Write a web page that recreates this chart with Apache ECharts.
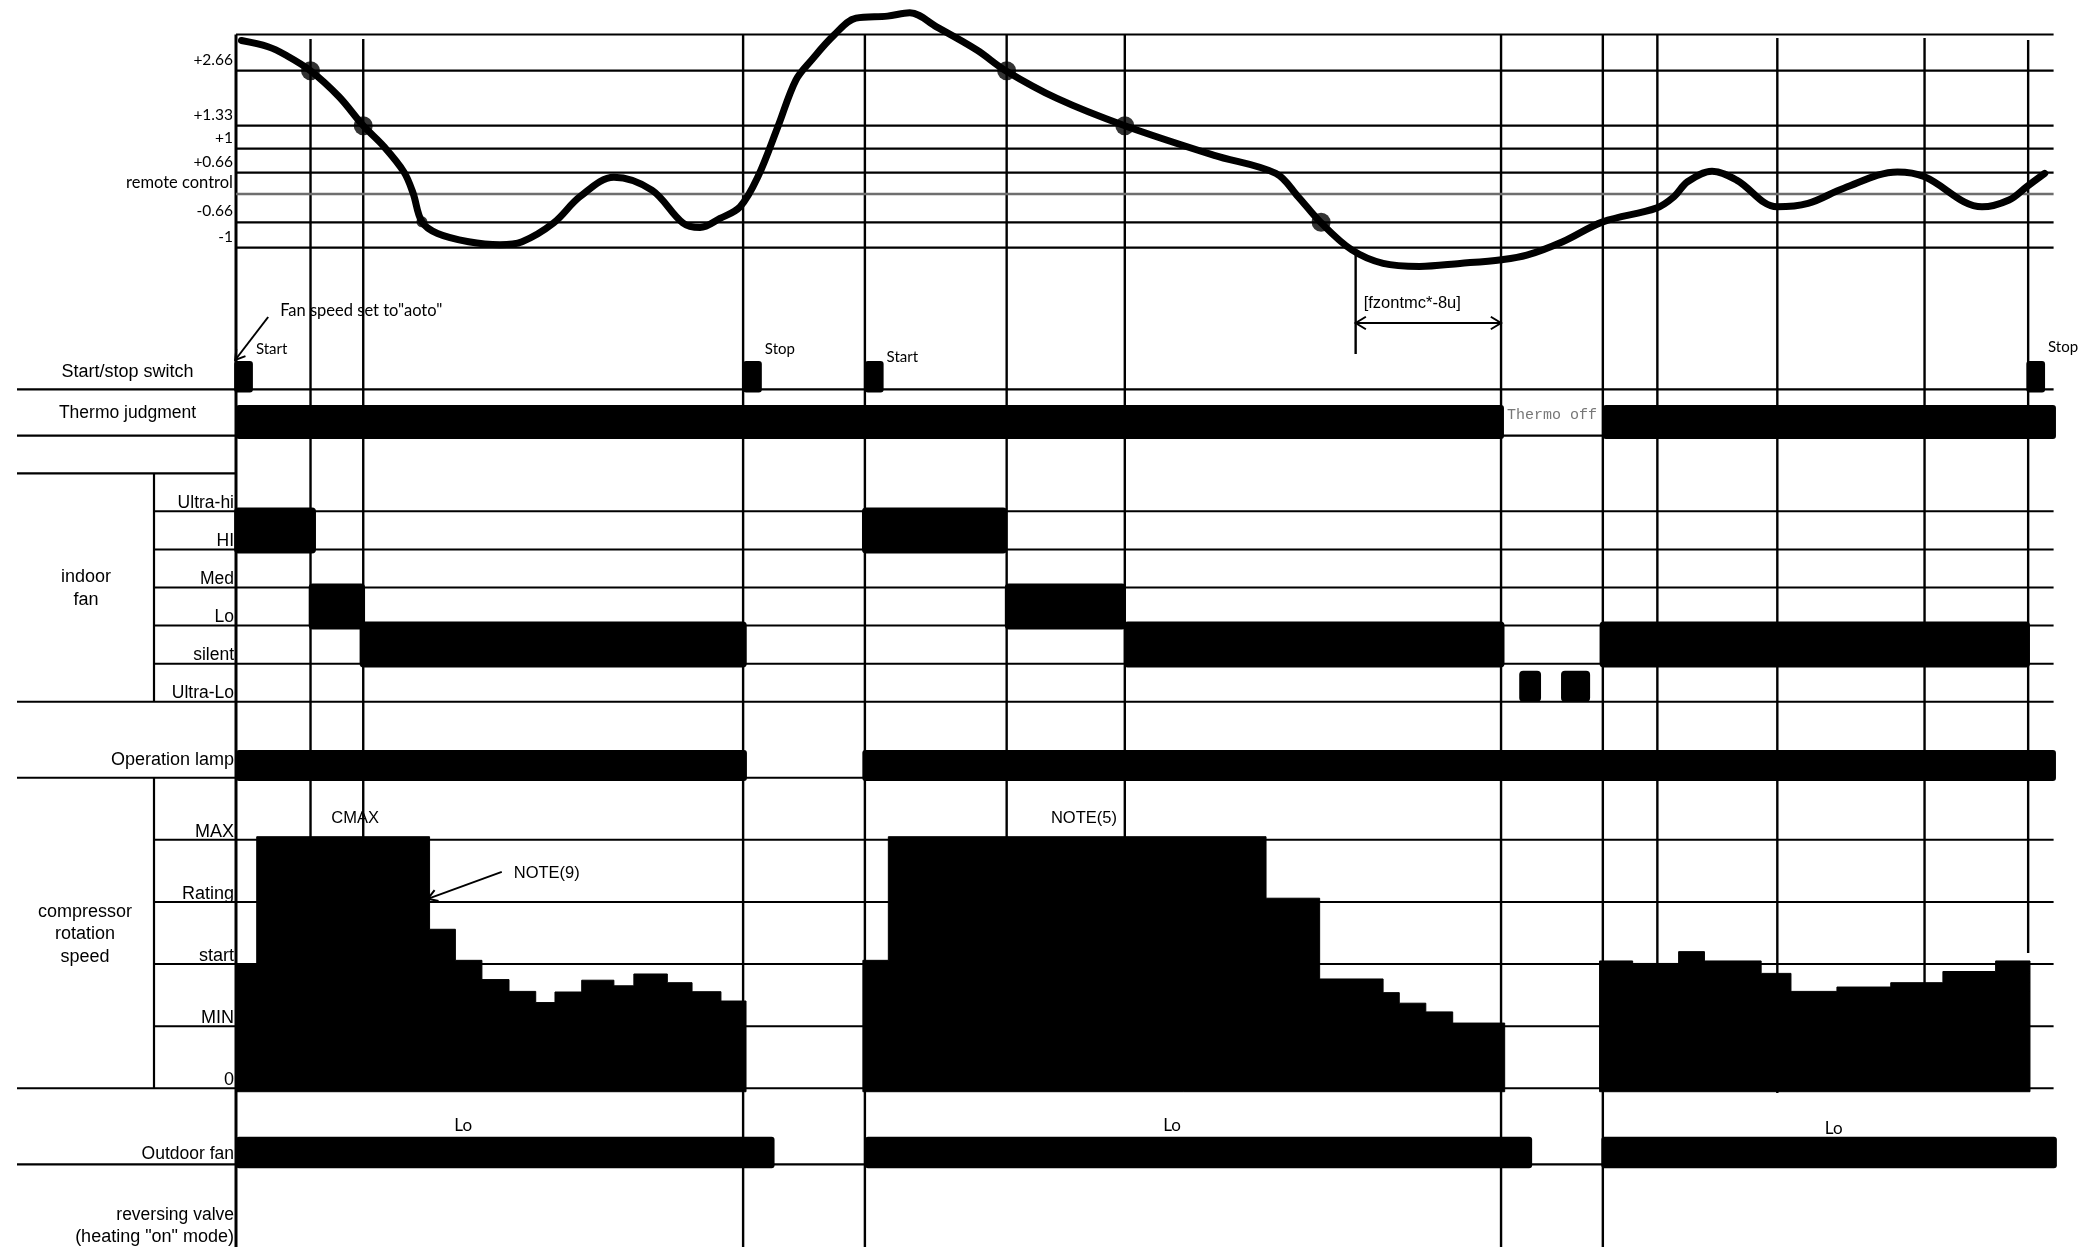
<!DOCTYPE html>
<html><head><meta charset="utf-8">
<script src="https://cdn.jsdelivr.net/npm/echarts@6/dist/echarts.min.js"></script>
<style>html,body{margin:0;padding:0;background:#fff}#c{width:2084px;height:1247px}</style>
</head><body><div id="c"></div>
<script>
// ======================= DATA (time in arbitrary units 0..1000) =======================
// event / transition times (vertical lines)
const eventTimes = [0, 41, 70, 279, 346, 424, 489, 616, 696, 752, 782, 848, 929, 986];

// room temperature deviation from remote-control setting
const tempLevels = [2.66, 1.33, 1, 0.66, 0, -0.66, -1];
const tempLevelLabels = ['+2.66', '+1.33', '+1', '+0.66', 'remote control', '-0.66', '-1'];
const tempCurveT = [3, 17.6, 27.3, 41, 56.7, 70, 81.4, 92.4, 97.4, 102.3, 110.9, 128, 145.2, 157.4, 174.7,
  189.3, 207.9, 228.8, 245.9, 255.3, 266.3, 277.3, 287.2, 298.2, 308.1, 316.7, 329, 341.1, 358.4, 370.7,
  385.4, 407.6, 423.5, 451.7, 489, 537.7, 572.1, 584.3, 596.7, 613.9, 631.1, 651.2, 673.4, 696.2, 710.2,
  729.9, 752, 781.4, 791.2, 798.6, 812.1, 825.6, 847.8, 864.9, 884.6, 914.1, 928.7, 960.6, 975.5, 985.3, 995.1];
const tempCurveDev = [3.39, 3.24, 3.04, 2.66, 2.03, 1.33, 1.03, 0.67, 0.03, -0.65, -0.81, -0.92, -0.96, -0.92, -0.67,
  -0.06, 0.52, 0.12, -0.67, -0.73, -0.57, -0.30, 0.54, 1.32, 2.44, 2.92, 3.52, 3.93, 3.98, 4.06,
  3.72, 3.16, 2.66, 1.99, 1.33, 0.91, 0.64, -0.06, -0.66, -1.03, -1.21, -1.25, -1.21, -1.16, -1.10,
  -0.92, -0.65, -0.33, -0.06, 0.38, 0.68, 0.43, -0.30, -0.22, 0.18, 0.67, 0.54, -0.30, -0.14, 0.23, 0.64];
const tempMarkT = [41, 70, 424, 489, 597];
const tempMarkDev = [2.66, 1.33, 2.66, 1.33, -0.66];
const tempSmallMarkT = [102.3];
const tempSmallMarkDev = [-0.65];

// start / stop switch presses
const switchTimes = [-1, 279, 346, 985];
const switchLabels = ['Start', 'Stop', 'Start', 'Stop'];

// thermo judgment (on intervals)
const thermoOn = [[0, 697.6], [752, 1001.3]];
const thermoOffLabel = 'Thermo off';

// indoor fan
const fanLevels = ['Ultra-Lo', 'silent', 'Lo', 'Med', 'HI', 'Ultra-hi'];   // bottom -> top
const indoorFanSteps = [[-1, 44, 'HI'], [40, 71, 'Lo'], [68, 281, 'silent'],
  [344.4, 424.2, 'HI'], [423, 489.6, 'Lo'], [488.5, 697.9, 'silent'], [750.2, 987, 'silent']];
const ultraLoPulses = [[706, 718], [729, 745]];

// operation lamp
const lampOn = [[0, 281.1], [344.6, 1001.3]];

// compressor rotation speed: [start, end, level]   (0=0, 1=MIN, 2=start, 3=Rating, 4=MAX)
const compLevels = ['0', 'MIN', 'start', 'Rating', 'MAX'];
const compSteps = [
  [0, 11.4, 2.0], [11.4, 106.5, 4.05], [106.5, 120.7, 2.56], [120.7, 135.3, 2.06], [135.3, 150.2, 1.75],
  [150.2, 164.9, 1.56], [164.9, 175.5, 1.38], [175.5, 190.2, 1.55], [190.2, 207.9, 1.74], [207.9, 218.9, 1.65],
  [218.9, 237.3, 1.84], [237.3, 250.9, 1.70], [250.9, 266.8, 1.555], [266.8, 280.6, 1.405],
  [344.9, 358.9, 2.06], [358.9, 566.7, 4.05], [566.7, 596.2, 3.06], [596.2, 631.1, 1.76], [631.1, 640, 1.54],
  [640, 654.6, 1.37], [654.6, 669.4, 1.23], [669.4, 698, 1.05],
  [750.2, 768.4, 2.05], [768.4, 793.7, 2.01], [793.7, 807.9, 2.20], [807.9, 839.1, 2.05], [839.1, 855.5, 1.85],
  [855.5, 880.8, 1.56], [880.8, 910.4, 1.63], [910.4, 939.1, 1.70], [939.1, 968.1, 1.88], [968.1, 987, 2.05]];
const compNoteT = [65.5, 466.5];
const compNoteText = ['CMAX', 'NOTE(5)'];
const note9Target = [105.5, 3.05];   // [time, level]
const note9Text = 'NOTE(9)';

// outdoor fan
const outdoorOn = [[0, 296.3], [346.1, 713.1], [751.2, 1001.8]];
const outdoorLabelT = [125, 515, 879];
const outdoorLabelText = ['Lo', 'Lo', 'Lo'];

// annotation texts
const fanNoteText = 'Fan speed set to"aoto"';
const dimText = '[fzontmc*-8u]';

// ======================= LAYOUT =======================
const W = 2084, H = 1247;
const PL = 236, PR = 2053.6;          // plot left / right edge
const LAB_L = 17, SUB_L = 154;        // label-area left edges
const LS = 'Liberation Sans', CAL = 'Lato', MONO = 'Liberation Mono';
const FRAME_TOP = 34.5;
const tempLevelPos = [70.7, 125.7, 148.7, 172.7, 194, 222.3, 247.7]; // px rows for tempLevels
const EVENT_SPAN = [[34.5, 1247], [39, 1088], [39, 1088], [34.5, 1247], [34.5, 1247], [34.5, 1088], [34.5, 1088],
  [255, 354], [34.5, 1247], [34.5, 1247], [34.5, 1088], [38, 1093], [38, 1088], [40, 953]];
const DIM_Y = 323;
const SW_PULSE = 10.3;
const SW_LABEL_DY = [-12, -12, -4, -14];
const OUT_LABEL_DY = [-11, -11, -8];
const FAN_HALF = 0.604;
const COMP_BASE = -0.055;

function devToPos(d) {
  const L = tempLevels, P = tempLevelPos;
  let i;
  if (d >= L[0]) i = 0;
  else if (d <= L[L.length - 1]) i = L.length - 2;
  else { i = 0; while (!(d <= L[i] && d >= L[i + 1])) i++; }
  const f = (d - L[i]) / (L[i + 1] - L[i]);
  return P[i] + f * (P[i + 1] - P[i]);
}

function txt(text, x, y, size, align, family, fill) {
  return { type: 'text', x: x, y: y, silent: true,
    style: { text: text, fill: fill || '#000', fontSize: size, fontFamily: family || LS,
      textAlign: align || 'left', align: align || 'left', textVerticalAlign: 'middle', verticalAlign: 'middle' } };
}
function ln(x1, y1, x2, y2, w, c) {
  return { type: 'line', silent: true, shape: { x1: x1, y1: y1, x2: x2, y2: y2 }, style: { stroke: c || '#000', lineWidth: w || 2 } };
}
function arrowHead(x1, y1, x2, y2, h) {
  const a = Math.atan2(y2 - y1, x2 - x1), s = 0.55; h = h || 11;
  return { type: 'polyline', shape: { points: [[x2 - h * Math.cos(a - s), y2 - h * Math.sin(a - s)], [x2, y2],
    [x2 - h * Math.cos(a + s), y2 - h * Math.sin(a + s)]] }, style: { stroke: '#000', lineWidth: 2, fill: 'none' } };
}

const gridDefs = [
  { top: 0, height: H },          // 0 overlay
  { top: 0, height: 290 },        // 1 temperature
  { top: 361, height: 28.4 },     // 2 start/stop
  { top: 405, height: 34 },       // 3 thermo
  { top: 473.3, height: 228.4 },  // 4 indoor fan (6 rows)
  { top: 750, height: 31 },       // 5 operation lamp
  { top: 777.7, height: 310.6 },  // 6 compressor (5 units)
  { top: 1136.7, height: 31.6 }   // 7 outdoor fan
];
const grid = gridDefs.map(g => ({ left: PL, width: PR - PL, top: g.top, height: g.height, outerBoundsMode: 'none', containLabel: false }));
const xAxis = gridDefs.map((g, i) => ({ gridIndex: i, type: 'value', min: 0, max: 1000, show: false }));
const hiddenY = (i, min, max, inv) => ({ gridIndex: i, type: 'value', min: min, max: max, inverse: !!inv, show: false });
const yAxis = [
  hiddenY(0, 0, H, true),
  { gridIndex: 1, type: 'value', min: 0, max: 290, inverse: true,
    axisLine: { show: false }, axisTick: { show: false }, splitLine: { show: false },
    axisLabel: { customValues: tempLevels.map(devToPos), margin: 3, fontSize: 15.5, fontFamily: CAL, color: '#000',
      verticalAlign: 'bottom', lineHeight: 22,
      rich: { rc: { fontSize: 16.5, fontFamily: CAL, lineHeight: 22 } },
      formatter: v => { const i = tempLevels.findIndex(d => Math.abs(devToPos(d) - v) < 0.01);
        if (i < 0) return ''; return tempLevels[i] === 0 ? '{rc|' + tempLevelLabels[i] + '}' : tempLevelLabels[i]; } } },
  hiddenY(2, 0, 1),
  hiddenY(3, 0, 1),
  { gridIndex: 4, type: 'value', min: 0, max: 6, interval: 1,
    axisLine: { show: false }, axisTick: { show: false }, splitLine: { show: false },
    axisLabel: { margin: 2, fontSize: 17.5, fontFamily: LS, color: '#000', verticalAlign: 'bottom', lineHeight: 17,
      showMinLabel: true, showMaxLabel: true, formatter: v => fanLevels[v] || '' } },
  hiddenY(5, 0, 1),
  { gridIndex: 6, type: 'value', min: 0, max: 5, interval: 1,
    axisLine: { show: false }, axisTick: { show: false }, splitLine: { show: false },
    axisLabel: { margin: 2, fontSize: 18, fontFamily: LS, color: '#000', verticalAlign: 'bottom', lineHeight: 16,
      showMinLabel: true, showMaxLabel: true, formatter: v => compLevels[v] || '' } },
  hiddenY(7, 0, 1)
];

function levelLines(gi, values, lefts, colors, widths) {
  return { type: 'custom', xAxisIndex: gi, yAxisIndex: gi, clip: false, silent: true, z: 1,
    data: values.map(v => [0, v]),
    renderItem: (p, api) => {
      const i = p.dataIndex, y = api.coord([0, api.value(1)])[1];
      return ln(lefts[i], y, p.coordSys.x + p.coordSys.width, y, widths ? widths[i] : 2, colors ? colors[i] : '#000');
    } };
}
function rangeBars(gi, items, r, z) {
  return { type: 'custom', xAxisIndex: gi, yAxisIndex: gi, clip: false, silent: true, z: z || 3,
    data: items,
    renderItem: (p, api) => {
      const a = api.coord([api.value(0), api.value(3)]), b = api.coord([api.value(1), api.value(2)]);
      return { type: 'rect', shape: { x: a[0], y: a[1], width: b[0] - a[0], height: b[1] - a[1], r: r }, style: { fill: '#000' } };
    } };
}

// contiguous compressor runs -> one step silhouette each
const compRuns = [];
compSteps.forEach((s, i) => {
  if (i === 0 || Math.abs(s[0] - compSteps[i - 1][1]) > 0.01) compRuns.push([i]);
  else compRuns[compRuns.length - 1].push(i);
});

const series = [
  // vertical event lines
  { type: 'custom', xAxisIndex: 0, yAxisIndex: 0, clip: false, silent: true, z: 1,
    data: eventTimes.map((t, i) => [t, i]),
    renderItem: (p, api) => {
      const t = api.value(0), i = p.dataIndex, s = EVENT_SPAN[i];
      const a = api.coord([t, s[0]]), b = api.coord([t, s[1]]);
      return ln(a[0], a[1], b[0], b[1], i === 0 ? 3 : 2.4);
    } },
  // dimension arrow between eventTimes[7] and [8]
  { type: 'custom', xAxisIndex: 0, yAxisIndex: 0, clip: false, silent: true, z: 2,
    data: [[eventTimes[7], eventTimes[8]]],
    renderItem: (p, api) => {
      const a = api.coord([api.value(0), DIM_Y]), b = api.coord([api.value(1), DIM_Y]);
      return { type: 'group', children: [ln(a[0], a[1], b[0], b[1], 2.2), arrowHead(b[0], b[1], a[0], a[1], 12),
        arrowHead(a[0], a[1], b[0], b[1], 12), txt(dimText, a[0] + 8, a[1] - 20, 16.5, 'left', LS)] };
    } },
  // temperature level lines
  levelLines(1, tempLevels.map(devToPos), tempLevels.map(() => PL),
    tempLevels.map(d => d === 0 ? '#6e6e6e' : '#000'), tempLevels.map(d => d === 0 ? 2.6 : 2.2)),
  // indoor fan row lines
  levelLines(4, [0, 1, 2, 3, 4, 5], [LAB_L, SUB_L, SUB_L, SUB_L, SUB_L, SUB_L]),
  // compressor level lines
  levelLines(6, [0, 1, 2, 3, 4, 5], [LAB_L, SUB_L, SUB_L, SUB_L, SUB_L, LAB_L]),
  // start / stop switch
  { type: 'custom', xAxisIndex: 2, yAxisIndex: 2, clip: false, silent: true, z: 3,
    data: switchTimes.map((t, i) => [t, i]),
    renderItem: (p, api) => {
      const i = p.dataIndex, t = api.value(0);
      const a = api.coord([t, 1]), b = api.coord([t + SW_PULSE, 0]);
      const ch = [{ type: 'rect', shape: { x: a[0], y: a[1], width: b[0] - a[0], height: b[1] - a[1] + 3, r: 3 }, style: { fill: '#000' } },
        txt(switchLabels[i], b[0] + 3, a[1] + SW_LABEL_DY[i], 15, 'left', CAL)];
      if (i === 0) {
        ch.push(ln(a[0] + 34, a[1] - 44, a[0] + 1, a[1] - 1, 2));
        ch.push(arrowHead(a[0] + 34, a[1] - 44, a[0] + 1, a[1] - 1, 11));
        ch.push(txt(fanNoteText, a[0] + 46, a[1] - 50, 16.5, 'left', CAL));
      }
      return { type: 'group', children: ch };
    } },
  // thermo judgment
  rangeBars(3, thermoOn.map(r => [r[0], r[1], 0, 1]), 3),
  { type: 'custom', xAxisIndex: 3, yAxisIndex: 3, clip: false, silent: true, z: 3,
    data: [[thermoOn[0][1], 0.5]],
    renderItem: (p, api) => { const a = api.coord([api.value(0), api.value(1)]); return txt(thermoOffLabel, a[0] + 3, a[1] - 7, 15, 'left', MONO, '#777'); } },
  // indoor fan
  rangeBars(4, indoorFanSteps.map(s => { const k = fanLevels.indexOf(s[2]); return [s[0], s[1], k + 0.5 - FAN_HALF, k + 0.5 + FAN_HALF]; }), 4),
  rangeBars(4, ultraLoPulses.map(s => [s[0], s[1], 0, 0.81]), 4),
  // operation lamp
  rangeBars(5, lampOn.map(r => [r[0], r[1], 0, 1]), 3),
  // compressor (step silhouettes)
  { type: 'custom', xAxisIndex: 6, yAxisIndex: 6, clip: false, silent: true, z: 3,
    data: compRuns.map((run, k) => [compSteps[run[0]][0], k]),
    renderItem: (p, api) => {
      const run = compRuns[p.dataIndex], pts = [];
      pts.push(api.coord([compSteps[run[0]][0], COMP_BASE]));
      run.forEach(i => { const s = compSteps[i]; pts.push(api.coord([s[0], s[2]])); pts.push(api.coord([s[1], s[2]])); });
      pts.push(api.coord([compSteps[run[run.length - 1]][1], COMP_BASE]));
      return { type: 'polygon', shape: { points: pts }, style: { fill: '#000', stroke: '#000', lineWidth: 1, lineJoin: 'round' } };
    } },
  { type: 'custom', xAxisIndex: 6, yAxisIndex: 6, clip: false, silent: true, z: 4,
    data: compNoteT.map((t, i) => [t, 4, i]),
    renderItem: (p, api) => { const a = api.coord([api.value(0), api.value(1)]); return txt(compNoteText[p.dataIndex], a[0], a[1] - 21, 16.5, 'center', LS); } },
  { type: 'custom', xAxisIndex: 6, yAxisIndex: 6, clip: false, silent: true, z: 4,
    data: [note9Target],
    renderItem: (p, api) => {
      const a = api.coord([api.value(0), api.value(1)]);
      return { type: 'group', children: [ln(a[0] + 74, a[1] - 27, a[0], a[1], 2), arrowHead(a[0] + 74, a[1] - 27, a[0], a[1], 11),
        txt(note9Text, a[0] + 86, a[1] - 25, 16.5, 'left', LS)] };
    } },
  // outdoor fan
  rangeBars(7, outdoorOn.map(r => [r[0], r[1], 0, 1]), 3),
  { type: 'custom', xAxisIndex: 7, yAxisIndex: 7, clip: false, silent: true, z: 3,
    data: outdoorLabelT.map(t => [t, 1]),
    renderItem: (p, api) => { const a = api.coord([api.value(0), api.value(1)]);
      return txt(outdoorLabelText[p.dataIndex], a[0], a[1] + OUT_LABEL_DY[p.dataIndex], 17, 'center', CAL); } },
  // temperature curve
  { type: 'line', xAxisIndex: 1, yAxisIndex: 1, z: 5, silent: true, symbol: 'none', smooth: 0.35,
    data: tempCurveT.map((t, i) => [t, devToPos(tempCurveDev[i])]),
    lineStyle: { color: '#000', width: 7, cap: 'round', join: 'round' } },
  { type: 'scatter', xAxisIndex: 1, yAxisIndex: 1, z: 6, silent: true, symbolSize: 19,
    data: tempMarkT.map((t, i) => [t, devToPos(tempMarkDev[i])]), itemStyle: { color: '#000' } },
  { type: 'scatter', xAxisIndex: 1, yAxisIndex: 1, z: 6, silent: true, symbolSize: 11,
    data: tempSmallMarkT.map((t, i) => [t, devToPos(tempSmallMarkDev[i])]), itemStyle: { color: '#000' } }
];

const graphic = [
  ln(PL, FRAME_TOP, PR, FRAME_TOP, 2.2),
  ln(LAB_L, 389.4, PR, 389.4, 2.2),
  ln(LAB_L, 435.7, PR, 435.7, 2.2),
  ln(LAB_L, 473.3, PL, 473.3, 2.2),
  ln(LAB_L, 1164.3, PR, 1164.3, 2.2),
  ln(SUB_L, 473.3, SUB_L, 701.7, 2.2),
  ln(SUB_L, 777.7, SUB_L, 1088.3, 2.2),
  txt('Start/stop switch', 127.5, 372, 18, 'center'),
  txt('Thermo judgment', 127.5, 413, 17.5, 'center'),
  txt('indoor', 86, 577, 18, 'center'),
  txt('fan', 86, 600, 18, 'center'),
  txt('Operation lamp', 234, 760, 18, 'right'),
  txt('compressor', 85, 912, 18, 'center'),
  txt('rotation', 85, 934, 18, 'center'),
  txt('speed', 85, 957, 18, 'center'),
  txt('Outdoor fan', 234, 1154, 17.5, 'right'),
  txt('reversing valve', 234, 1215, 17.5, 'right'),
  txt('(heating "on" mode)', 234, 1237, 18, 'right')
];

const chart = echarts.init(document.getElementById('c'), null, { renderer: 'canvas', width: W, height: H });
chart.setOption({ animation: false, backgroundColor: '#fff', grid: grid, xAxis: xAxis, yAxis: yAxis, series: series, graphic: graphic });
</script></body></html>
